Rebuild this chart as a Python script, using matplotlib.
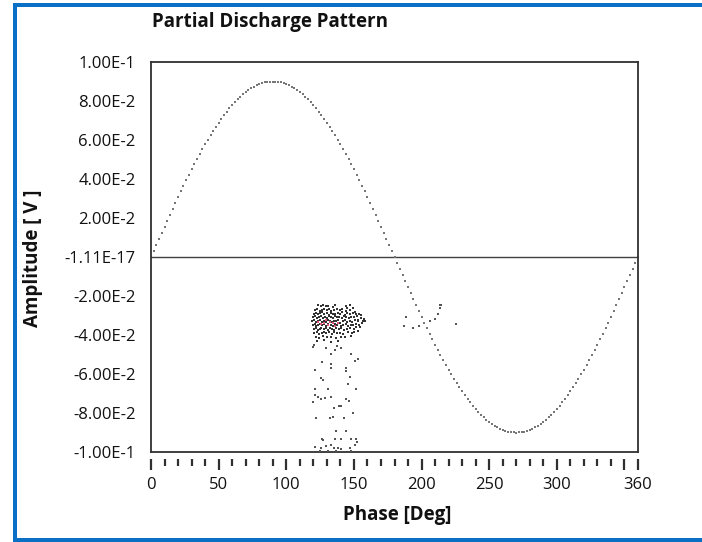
import matplotlib
matplotlib.use("Agg")
import matplotlib.pyplot as plt
from matplotlib.patches import Rectangle
from matplotlib.ticker import FixedLocator

plt.rcParams['font.family'] = ['Open Sans', 'DejaVu Sans']

# ---------------- data ----------------
# reference sine (read from chart: 0.09 V peak), sampled every 2 degrees
sine_phase = list(range(0, 361, 2))
sine_amp = [
    0.0, 0.00314, 0.00628, 0.00941, 0.01253, 0.01563, 0.01871, 0.02177, 0.02481, 0.02781,
    0.03078, 0.03371, 0.03661, 0.03945, 0.04225, 0.04500, 0.04769, 0.05033, 0.05290, 0.05541,
    0.05785, 0.06022, 0.06252, 0.06474, 0.06688, 0.06894, 0.07092, 0.07281, 0.07461, 0.07632,
    0.07794, 0.07947, 0.08089, 0.08222, 0.08345, 0.08457, 0.08560, 0.08651, 0.08733, 0.08803,
    0.08863, 0.08912, 0.08951, 0.08978, 0.08995, 0.09000,
    0.08995, 0.08978, 0.08951, 0.08912, 0.08863, 0.08803, 0.08733, 0.08651, 0.08560, 0.08457,
    0.08345, 0.08222, 0.08089, 0.07947, 0.07794, 0.07632, 0.07461, 0.07281, 0.07092, 0.06894,
    0.06688, 0.06474, 0.06252, 0.06022, 0.05785, 0.05541, 0.05290, 0.05033, 0.04769, 0.04500,
    0.04225, 0.03945, 0.03661, 0.03371, 0.03078, 0.02781, 0.02481, 0.02177, 0.01871, 0.01563,
    0.01253, 0.00941, 0.00628, 0.00314, 0.0,
    -0.00314, -0.00628, -0.00941, -0.01253, -0.01563, -0.01871, -0.02177, -0.02481, -0.02781,
    -0.03078, -0.03371, -0.03661, -0.03945, -0.04225, -0.04500, -0.04769, -0.05033, -0.05290, -0.05541,
    -0.05785, -0.06022, -0.06252, -0.06474, -0.06688, -0.06894, -0.07092, -0.07281, -0.07461, -0.07632,
    -0.07794, -0.07947, -0.08089, -0.08222, -0.08345, -0.08457, -0.08560, -0.08651, -0.08733, -0.08803,
    -0.08863, -0.08912, -0.08951, -0.08978, -0.08995, -0.09000,
    -0.08995, -0.08978, -0.08951, -0.08912, -0.08863, -0.08803, -0.08733, -0.08651, -0.08560, -0.08457,
    -0.08345, -0.08222, -0.08089, -0.07947, -0.07794, -0.07632, -0.07461, -0.07281, -0.07092, -0.06894,
    -0.06688, -0.06474, -0.06252, -0.06022, -0.05785, -0.05541, -0.05290, -0.05033, -0.04769, -0.04500,
    -0.04225, -0.03945, -0.03661, -0.03371, -0.03078, -0.02781, -0.02481, -0.02177, -0.01871, -0.01563,
    -0.01253, -0.00941, -0.00628, -0.00314, 0.0,
]

# dense discharge cluster (phase deg, amplitude V)
cluster_phase = [
    123.2, 125.8, 127.1, 129.5, 131.0, 134.4, 136.2, 144.5, 146.8,
    121.5, 122.8, 124.6, 126.3, 128.0, 129.9, 131.7, 133.2, 135.1, 137.4, 139.6, 141.2, 143.8, 147.0, 149.5,
    120.4, 121.9, 123.5, 125.0, 126.7, 128.2, 129.8, 131.4, 133.0, 134.7, 136.3, 138.0, 139.9, 141.5, 143.2,
    145.0, 146.9, 149.1, 151.8, 154.0,
    119.6, 121.0, 122.4, 123.9, 125.3, 126.9, 128.4, 129.9, 131.5, 133.1, 134.6, 136.0, 137.7, 139.3, 141.0,
    142.6, 144.3, 146.1, 147.8, 149.9, 152.3, 155.5,
    119.2, 120.6, 122.0, 123.4, 124.9, 126.4, 127.8, 129.3, 130.8, 132.4, 133.9, 135.3, 136.9, 138.4, 140.0,
    141.7, 143.4, 145.2, 147.0, 148.8, 150.7, 152.9, 156.8,
    119.5, 120.9, 122.3, 123.8, 125.2, 126.7, 128.1, 129.6, 131.2, 132.7, 134.2, 135.8, 137.3, 138.9, 140.6,
    142.2, 144.0, 145.8, 147.6, 149.4, 151.5, 153.8,
    120.2, 121.7, 123.1, 124.6, 126.0, 127.6, 129.1, 130.6, 132.2, 133.8, 135.4, 137.0, 138.7, 140.5, 142.4,
    144.6, 146.9, 149.7,
    120.8, 122.6, 124.3, 126.1, 128.0, 129.7, 131.6, 133.5, 135.5, 137.6, 139.8, 142.0, 145.5, 148.3,
    121.8, 124.5, 127.2, 130.3, 133.4, 136.9, 140.2, 143.5,
    123.0, 127.9, 132.8, 138.1,
    150.8, 153.1, 155.2, 157.6, 151.4, 154.6, 156.0, 148.2, 150.3, 144.9, 158.3, 153.3,
]
cluster_amp = [
    -0.0248, -0.0253, -0.0246, -0.0251, -0.0249, -0.0255, -0.0247, -0.0250, -0.0245,
    -0.0272, -0.0268, -0.0275, -0.0270, -0.0266, -0.0274, -0.0269, -0.0277, -0.0271, -0.0265, -0.0273,
    -0.0268, -0.0276, -0.0270, -0.0263,
    -0.0291, -0.0286, -0.0294, -0.0289, -0.0283, -0.0292, -0.0288, -0.0295, -0.0285, -0.0290, -0.0293,
    -0.0287, -0.0291, -0.0284, -0.0296, -0.0289, -0.0292, -0.0286, -0.0290, -0.0294,
    -0.0310, -0.0305, -0.0313, -0.0308, -0.0302, -0.0311, -0.0306, -0.0314, -0.0303, -0.0309, -0.0312,
    -0.0304, -0.0310, -0.0307, -0.0315, -0.0301, -0.0309, -0.0313, -0.0306, -0.0310, -0.0304, -0.0311,
    -0.0330, -0.0325, -0.0334, -0.0328, -0.0322, -0.0331, -0.0327, -0.0335, -0.0323, -0.0329, -0.0333,
    -0.0326, -0.0330, -0.0324, -0.0336, -0.0328, -0.0321, -0.0332, -0.0327, -0.0334, -0.0325, -0.0330, -0.0328,
    -0.0350, -0.0344, -0.0353, -0.0347, -0.0342, -0.0351, -0.0346, -0.0355, -0.0343, -0.0349, -0.0352,
    -0.0345, -0.0350, -0.0341, -0.0354, -0.0348, -0.0343, -0.0352, -0.0347, -0.0351, -0.0345, -0.0349,
    -0.0370, -0.0365, -0.0373, -0.0367, -0.0362, -0.0371, -0.0366, -0.0374, -0.0363, -0.0369, -0.0372,
    -0.0364, -0.0370, -0.0366, -0.0373, -0.0368, -0.0362, -0.0371,
    -0.0390, -0.0386, -0.0394, -0.0388, -0.0383, -0.0392, -0.0387, -0.0395, -0.0384, -0.0391, -0.0389,
    -0.0393, -0.0386, -0.0391,
    -0.0410, -0.0414, -0.0406, -0.0412, -0.0408, -0.0415, -0.0409, -0.0411,
    -0.0432, -0.0428, -0.0435, -0.0430,
    -0.0280, -0.0322, -0.0298, -0.0318, -0.0361, -0.0357, -0.0340, -0.0407, -0.0384, -0.0262, -0.0330, -0.0378,
]

# scattered discharges below the cluster
tail_phase = [
    119.4, 120.6, 129.7, 133.3, 135.8, 137.7, 140.7, 148.0, 151.0, 152.9, 126.7, 133.3, 133.3, 143.9,
    144.4, 121.1, 126.0, 127.2, 146.8, 145.6, 151.7, 121.1, 130.9, 128.4, 121.1, 123.5, 125.5, 133.3,
    119.9, 143.9, 146.3, 139.0, 140.2, 135.3, 149.3, 142.6, 132.1, 121.8, 134.6, 143.9, 137.0, 126.7,
    127.2, 135.8, 140.2, 148.0, 151.7, 121.1, 126.0, 129.7, 132.9, 135.3, 138.2, 140.7, 146.8, 151.0,
    152.2, 124.8, 147.6, 130.9, 137.0,
]
tail_amp = [
    -0.0463, -0.0450, -0.0466, -0.0495, -0.0478, -0.0457, -0.0466, -0.0495, -0.0531, -0.0522, -0.0539,
    -0.0551, -0.0568, -0.0568, -0.0586, -0.0577, -0.0623, -0.0632, -0.0614, -0.0649, -0.0679, -0.0679,
    -0.0679, -0.0722, -0.0710, -0.0717, -0.0726, -0.0717, -0.0745, -0.0726, -0.0739, -0.0762, -0.0763,
    -0.0773, -0.0799, -0.0825, -0.0825, -0.0825, -0.0820, -0.0893, -0.0893, -0.0932, -0.0941, -0.0932,
    -0.0932, -0.0932, -0.0932, -0.0975, -0.0979, -0.0970, -0.0962, -0.0982, -0.0979, -0.0987, -0.0979,
    -0.0962, -0.0950, -0.0996, -0.0996, -0.0996, -0.0996,
]

# isolated discharges near 190-225 deg
side_phase = [188.5, 187.3, 193.9, 197.8, 205.9, 209.8, 212.5, 213.7, 214.7, 214.0, 225.7]
side_amp = [-0.0309, -0.0355, -0.0365, -0.0355, -0.0329, -0.0317, -0.0290, -0.0264, -0.0244, -0.0244, -0.0346]

# highlighted (pink) points in the cluster core
hot_phase = [123.5, 126.0, 128.2, 130.5, 132.0, 134.5, 136.0, 129.0, 138.5]
hot_amp = [-0.0333, -0.0345, -0.0338, -0.0350, -0.0332, -0.0341, -0.0355, -0.0325, -0.0337]

y_ticks = [0.1, 0.08, 0.06, 0.04, 0.02, 0.0, -0.02, -0.04, -0.06, -0.08, -0.1]
y_labels = ["1.00E-1", "8.00E-2", "6.00E-2", "4.00E-2", "2.00E-2", "-1.11E-17",
            "-2.00E-2", "-4.00E-2", "-6.00E-2", "-8.00E-2", "-1.00E-1"]
x_major = [0, 50, 100, 150, 200, 250, 300, 350, 360]
x_labels = ["0", "50", "100", "150", "200", "250", "300", "", "360"]
x_minor = list(range(0, 361, 10))

# ---------------- figure ----------------
W, H = 702, 542
fig = plt.figure(figsize=(W / 100, H / 100), dpi=100)

ax = fig.add_axes([151 / W, 1 - 452 / H, 487 / W, 390 / H])
ax.set_xlim(0, 360)
ax.set_ylim(-0.1, 0.1)

ax.axhline(0, color="#404040", lw=1.0, zorder=1)
ax.scatter(sine_phase, sine_amp, s=2.0, color="#777777", marker="s", linewidths=0, zorder=2)
ax.scatter(cluster_phase, cluster_amp, s=4.2, color="#333333", marker="s", linewidths=0, zorder=3)
ax.scatter(tail_phase, tail_amp, s=2.6, color="#555555", marker="s", linewidths=0, zorder=3)
ax.scatter(side_phase, side_amp, s=2.6, color="#555555", marker="s", linewidths=0, zorder=3)
ax.scatter(hot_phase, hot_amp, s=4.0, color="#e0557a", marker="s", linewidths=0, zorder=4)

for sp in ax.spines.values():
    sp.set_color("#303030")
    sp.set_linewidth(1.3)

ax.set_yticks(y_ticks)
ax.set_yticklabels(y_labels)
ax.tick_params(axis="y", length=0, pad=11, labelsize=12, labelcolor="#111111")
ax.tick_params(axis="x", which="both", bottom=False, labelbottom=False)

sec = ax.secondary_xaxis(-0.018)
sec.spines["bottom"].set_visible(False)
sec.xaxis.set_major_locator(FixedLocator(x_major))
sec.xaxis.set_minor_locator(FixedLocator(x_minor))
sec.set_xticklabels(x_labels)
sec.tick_params(axis="x", which="major", length=8, width=1.6, color="#303030",
                labelsize=12, pad=5, labelcolor="#111111")
sec.tick_params(axis="x", which="minor", length=5, width=1.6, color="#303030")

fig.text(397 / W, 1 - 515 / H, "Phase [Deg]", ha="center", va="center",
         fontsize=13.5, fontweight="bold", color="#111111")
fig.text(33 / W, 1 - 258 / H, "Amplitude [ V ]", ha="center", va="center",
         rotation=90, fontsize=13.5, fontweight="bold", color="#111111")
fig.text(152 / W, 1 - 22 / H, "Partial Discharge Pattern", ha="left", va="center",
         fontsize=13.5, fontweight="bold", color="#111111")

# blue window frame
blue = "#0a70c6"
fig.patches.append(Rectangle((13 / W, 1 - 7 / H), 1 - 13 / W, 4 / H, transform=fig.transFigure,
                             color=blue, lw=0, zorder=10))
fig.patches.append(Rectangle((13 / W, 0), 4 / W, 1 - 3 / H, transform=fig.transFigure,
                             color=blue, lw=0, zorder=10))
fig.patches.append(Rectangle((13 / W, 0), 1 - 13 / W, 4 / H, transform=fig.transFigure,
                             color=blue, lw=0, zorder=10))

fig.savefig("out.png", dpi=100)
